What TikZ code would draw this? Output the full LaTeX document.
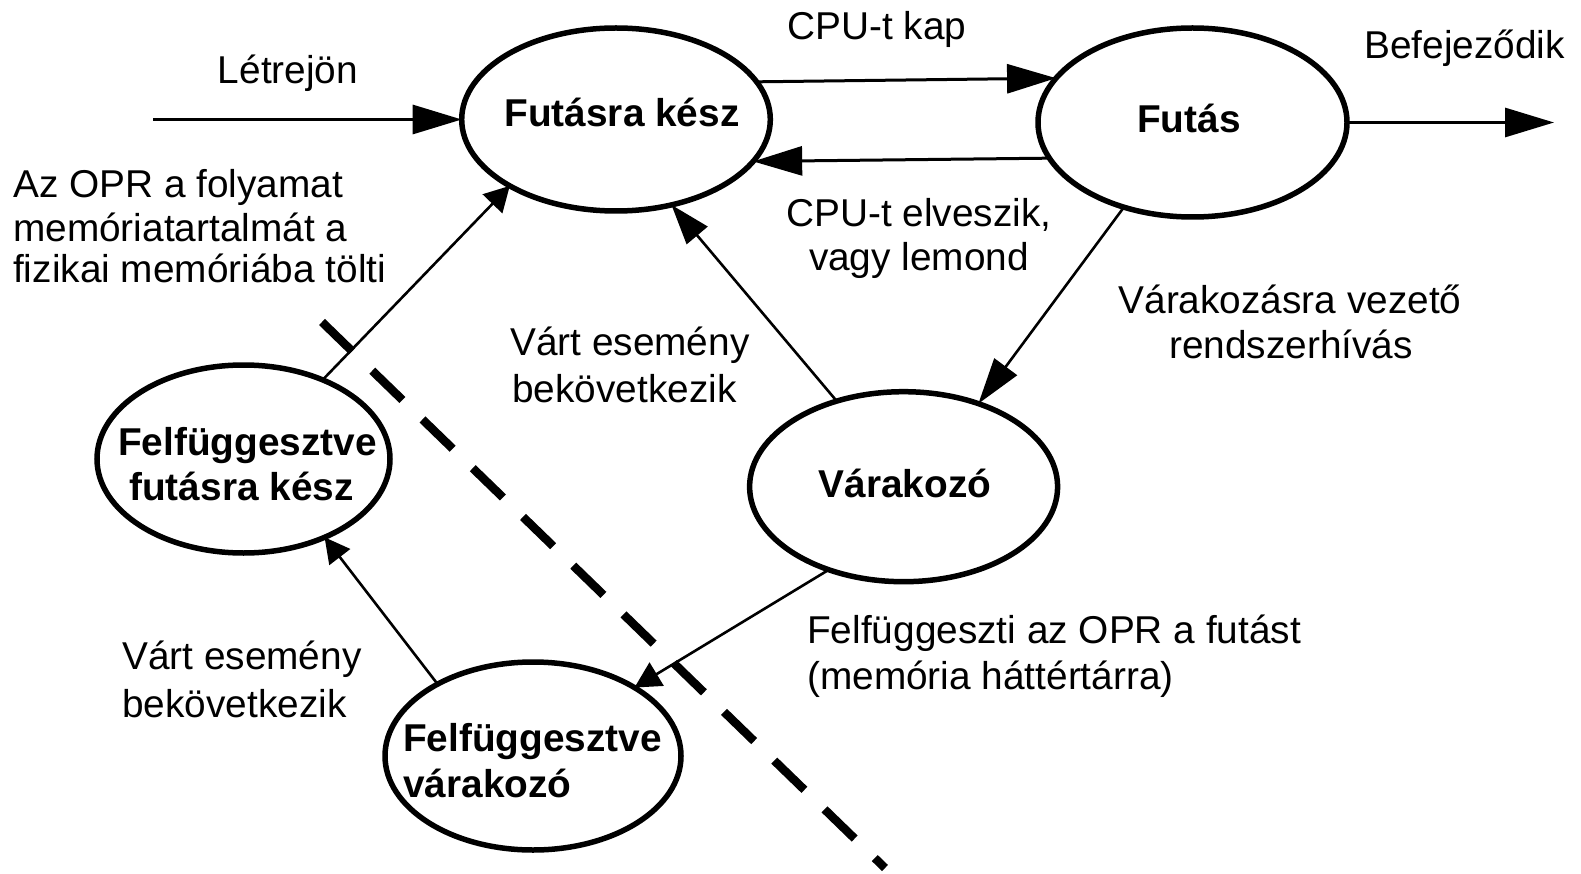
\documentclass[tikz,border=0pt]{standalone}
\usepackage{fontspec}
\setmainfont{Liberation Sans}
\usetikzlibrary{arrows.meta,shapes.geometric}
\tikzset{
  state/.style={ellipse, draw, line width=5.5pt, inner sep=0pt, outer sep=0pt},
  lbl/.style={font=\fontsize{38.8}{45}\selectfont, inner sep=0pt, anchor=base},
  lblw/.style={lbl, anchor=base west},
  slbl/.style={font=\fontsize{38.8}{45}\selectfont\bfseries, inner sep=0pt, anchor=base},
  slblw/.style={slbl, anchor=base west},
  harrow/.style={line width=3pt, -{Triangle[length=49pt,width=29pt]}},
  darrow/.style={line width=2.6pt},
  sepline/.style={line width=8.5pt, dash pattern=on 42pt off 28pt},
}
\begin{document}
\begin{tikzpicture}[x=1pt,y=-1pt]
\useasboundingbox (0,0) rectangle (1581,874);

% states
\node[state, minimum width=308.6pt, minimum height=183pt] (A) at (616,119.5) {};
\node[state, minimum width=309pt, minimum height=189pt] (B) at (1192.5,122.5) {};
\node[state, minimum width=308pt, minimum height=190pt] (C) at (903.6,486.7) {};
\node[state, minimum width=293pt, minimum height=188pt] (D) at (243.5,459) {};
\node[state, minimum width=296pt, minimum height=188pt] (E) at (533,756) {};

% state texts
\node[slbl] (tA) at (622,127) {Futásra kész};
\node[slbl] (tB) at (1189,133) {Futás};
\node[slbl] (tC) at (905,497) {Várakozó};
\node[slbl] (tD1) at (247.5,455) {Felfüggesztve};
\node[slbl] (tD2) at (241.5,500) {futásra kész};
\node[slblw] (tE1) at (403,751) {Felfüggesztve};
\node[slblw] (tE2) at (403,797) {várakozó};

% separator
\coordinate (dS) at (322,322);
\coordinate (dE) at (885,868);
\draw[sepline] (dS) -- (dE);

% connectors
\coordinate (inL) at (153,119.5);
\coordinate (outR) at (1554,122.5);
\draw[harrow] (inL) -- (inL -| A.west);
\draw[harrow] (A.15.84) -- (B.162.88);
\draw[harrow] (B.194.81) -- (A.343.69);
\draw[harrow] (B.east) -- (B.east -| outR);
\draw[darrow, -{Triangle[length=46pt,width=28pt]}] (B.231.7) -- (C.48.3);
\draw[darrow, -{Triangle[length=40pt,width=27pt]}] (C.128.35) -- (A.303.7);
\draw[darrow, -{Triangle[length=25pt,width=27pt]}] (D.45.5) -- (A.212.87);
\draw[darrow, -{Triangle[length=25pt,width=26pt]}] (E.143.04) -- (D.316);
\draw[darrow, -{Triangle[length=26pt,width=27pt]}] (C.228.15) -- (E.34.46);

% labels
\node[lbl] (lLetre) at (288,84) {Létrejön};
\node[lbl] (lCpu) at (877,40) {CPU-t kap};
\node[lbl] (lBef) at (1464.5,59) {Befejeződik};
\node[lblw] (lOpr1) at (13,198) {Az OPR a folyamat};
\node[lblw] (lOpr2) at (13,242) {memóriatartalmát a};
\node[lblw] (lOpr3) at (13,283) {fizikai memóriába tölti};
\node[lbl] (lEl1) at (919,227) {CPU-t elveszik,};
\node[lbl] (lEl2) at (919,271) {vagy lemond};
\node[lbl] (lVv1) at (1290,313) {Várakozásra vezető};
\node[lbl] (lVv2) at (1291,359) {rendszerhívás};
\node[lblw] (lVe1) at (510,355) {Várt esemény};
\node[lblw] (lVe2) at (512,402) {bekövetkezik};
\node[lblw] (lVf1) at (122,669) {Várt esemény};
\node[lblw] (lVf2) at (122,717) {bekövetkezik};
\node[lblw] (lFf1) at (807,643) {Felfüggeszti az OPR a futást};
\node[lblw] (lFf2) at (807,689) {(memória háttértárra)};
\end{tikzpicture}
\end{document}
